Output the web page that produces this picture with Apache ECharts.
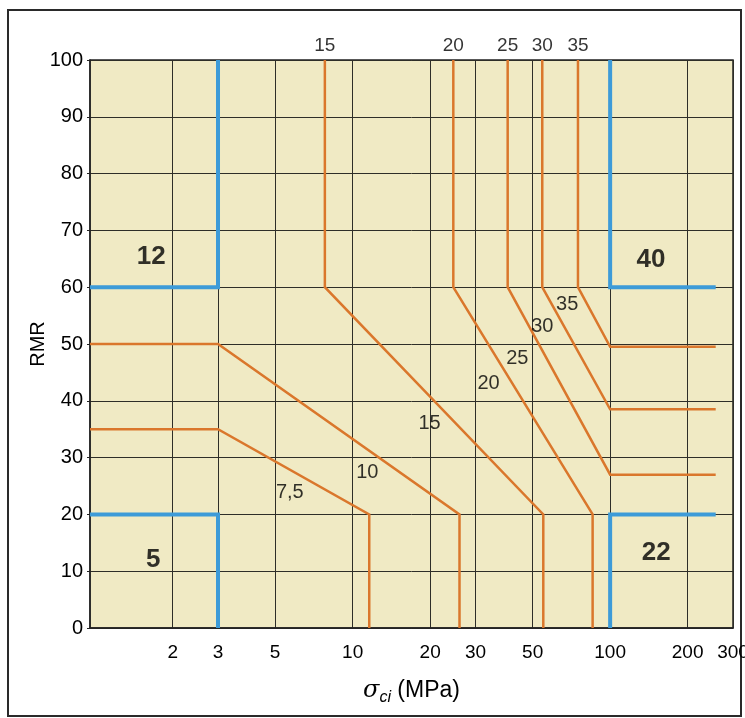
<!DOCTYPE html>
<html>
<head>
<meta charset="utf-8">
<script src="https://cdn.jsdelivr.net/npm/echarts@6/dist/echarts.min.js"></script>
<style>
html, body { margin: 0; padding: 0; background: #fff; }
#chart { width: 745px; height: 718px; }
</style>
</head>
<body>
<div id="chart"></div>
<script>
// sigma_ci axis (MPa), drawn on log10 scale
var X_LEFT = 0.955, X_RIGHT = 300;
var xTicks = [2, 3, 5, 10, 20, 30, 50, 100, 200, 300];

// orange curves: [sigma_ci, RMR]
var line75 = [[X_LEFT, 35], [3, 35], [11.6, 20], [11.6, 0]];
var line10 = [[X_LEFT, 50], [3, 50], [26, 20], [26, 0]];
var line15 = [[7.8, 100], [7.8, 60], [55, 20], [55, 0]];
var line20 = [[24.6, 100], [24.6, 60], [85.5, 20], [85.5, 0]];
var line25 = [[40, 100], [40, 60], [100, 27], [257, 27]];
var line30 = [[54.5, 100], [54.5, 60], [100, 38.5], [257, 38.5]];
var line35 = [[75, 100], [75, 60], [100, 49.5], [257, 49.5]];

// blue zone borders
var zone12 = [[X_LEFT, 60], [3, 60], [3, 100]];
var zone5 = [[X_LEFT, 20], [3, 20], [3, 0]];
var zone40 = [[100, 100], [100, 60], [257, 60]];
var zone22 = [[257, 20], [100, 20], [100, 0]];

// labels
var topText = ['15', '20', '25', '30', '35'];
var topX = [7.8, 24.6, 40, 54.5, 75];
var curveText = ['7,5', '10', '15', '20', '25', '30', '35'];
var curveX = [5.7, 11.4, 19.9, 33.7, 43.6, 54.5, 68.1];
var curveY = [23.8, 27.3, 36, 43.1, 47.5, 53, 56.9];
var zoneText = ['12', '5', '40', '22'];
var zoneX = [1.65, 1.68, 144, 151];
var zoneY = [65.3, 12, 64.8, 13.2];

var ORANGE = '#da772c';
var BLUE = '#3d9bd8';
var TXT = '#000';

function lg(p) { return [Math.log10(p[0]), p[1]]; }

function curve(pts, color, width) {
    return {
        type: 'line',
        data: pts.map(lg),
        symbol: 'none',
        silent: true,
        lineStyle: { color: color, width: width, join: 'miter' },
        z: width > 3 ? 4 : 3
    };
}

function textSeries(xs, ys, texts, label) {
    return {
        type: 'scatter',
        symbolSize: 0,
        silent: true,
        data: xs.map(function (x, i) { return { value: [Math.log10(x), ys[i]], name: texts[i] }; }),
        label: Object.assign({ show: true, formatter: '{b}', color: TXT, fontFamily: 'Liberation Sans' }, label),
        z: 6
    };
}

var chart = echarts.init(document.getElementById('chart'));
chart.setOption({
    animation: false,
    backgroundColor: '#fff',
    grid: {
        left: 90, top: 60, right: 12, bottom: 90,
        outerBoundsMode: 'none',
        show: true, backgroundColor: '#f0eac4', borderColor: '#222', borderWidth: 1.5
    },
    graphic: [{
        type: 'rect', z: -1,
        shape: { x: 8, y: 10, width: 733, height: 706 },
        style: { fill: 'none', stroke: '#2a2a2a', lineWidth: 2 }
    }],
    xAxis: {
        type: 'value',
        min: Math.log10(X_LEFT),
        max: Math.log10(X_RIGHT),
        name: '{s|σ}{sub|ci}{n| (MPa)}',
        nameLocation: 'middle',
        nameGap: 48,
        nameTextStyle: {
            rich: {
                s: { fontSize: 24, fontStyle: 'italic', fontFamily: 'DejaVu Serif', color: TXT },
                sub: { fontSize: 16, fontStyle: 'italic', fontFamily: 'Liberation Sans', color: TXT, padding: [14, 0, 0, 0] },
                n: { fontSize: 23, fontFamily: 'Liberation Sans', color: TXT }
            }
        },
        axisLine: { show: true, onZero: false, lineStyle: { color: '#222', width: 1.5 } },
        axisTick: { show: false, customValues: xTicks.map(Math.log10) },
        axisLabel: {
            customValues: xTicks.map(Math.log10),
            formatter: function (v) { return String(Math.round(Math.pow(10, v))); },
            fontSize: 19, color: TXT, fontFamily: 'Liberation Sans', margin: 15
        },
        splitLine: { show: true, lineStyle: { color: '#2e2e28', width: 1 } }
    },
    yAxis: {
        type: 'value',
        min: 0, max: 100, interval: 10,
        name: 'RMR',
        nameLocation: 'middle',
        nameGap: 42,
        nameMoveOverlap: false,
        nameTextStyle: { fontSize: 20, color: TXT, fontFamily: 'Liberation Sans' },
        axisLine: { show: true, onZero: false, lineStyle: { color: '#222', width: 1.5 } },
        axisTick: { show: true, length: 3, lineStyle: { color: '#222' } },
        axisLabel: { fontSize: 20, color: TXT, fontFamily: 'Liberation Sans', margin: 7 },
        splitLine: { show: true, lineStyle: { color: '#2e2e28', width: 1 } }
    },
    series: [
        curve(line75, ORANGE, 2.5),
        curve(line10, ORANGE, 2.5),
        curve(line15, ORANGE, 2.5),
        curve(line20, ORANGE, 2.5),
        curve(line25, ORANGE, 2.5),
        curve(line30, ORANGE, 2.5),
        curve(line35, ORANGE, 2.5),
        curve(zone12, BLUE, 4),
        curve(zone5, BLUE, 4),
        curve(zone40, BLUE, 4),
        curve(zone22, BLUE, 4),
        textSeries(topX, topX.map(function () { return 100; }), topText, { position: 'top', distance: 5, fontSize: 19 }),
        textSeries(curveX, curveY, curveText, { position: 'inside', fontSize: 20 }),
        textSeries(zoneX, zoneY, zoneText, { position: 'inside', fontSize: 26, fontWeight: 'bold' })
    ]
});
</script>
</body>
</html>
